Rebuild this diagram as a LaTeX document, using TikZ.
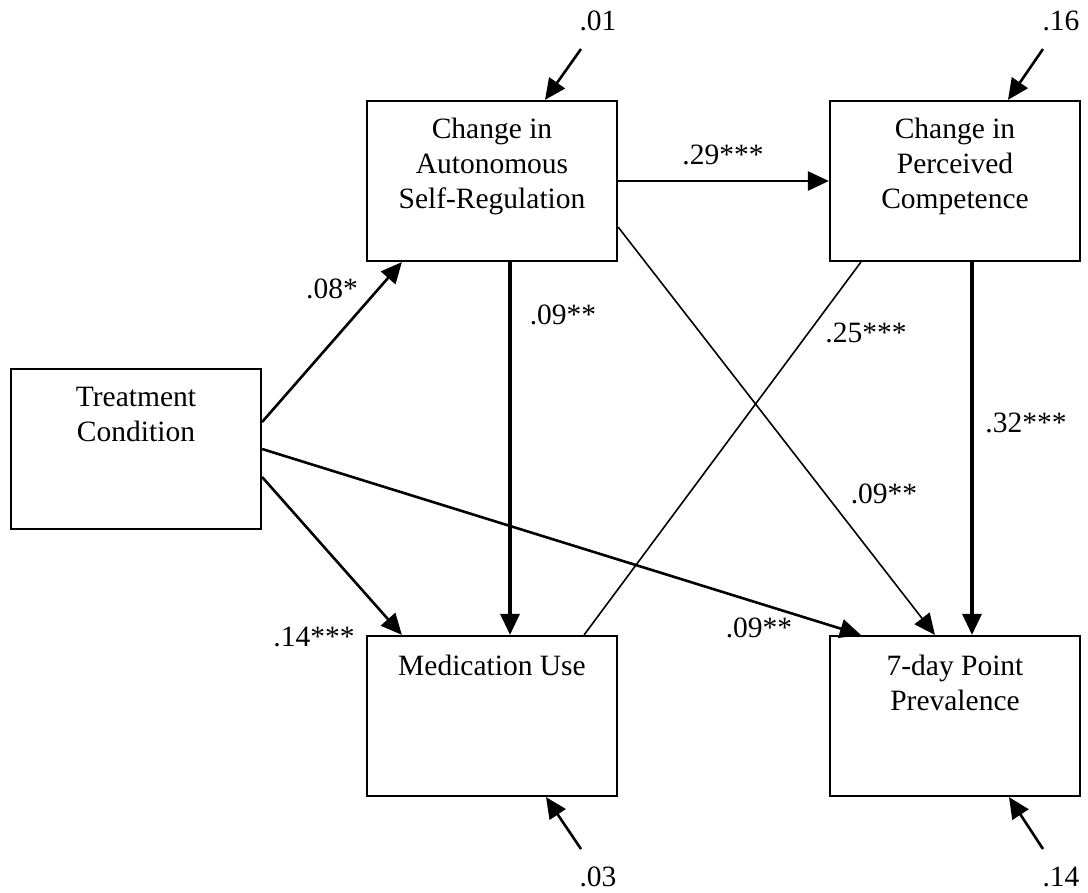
\documentclass[tikz,border=0pt]{standalone}
\usepackage{fontspec}
\setmainfont{Liberation Serif}
\usetikzlibrary{arrows.meta}
\begin{document}
\begin{tikzpicture}[x=1pt,y=-1pt,
  box/.style={draw, line width=2.2pt, minimum width=250pt, minimum height=160pt, inner sep=0pt},
  boxtext/.style={anchor=north, align=center, inner sep=0pt, font=\fontsize{29.5}{35}\selectfont},
  coef/.style={anchor=base, inner sep=0pt, font=\fontsize{29.5}{35}\selectfont},
  arr/.style={-{Triangle[length=21pt,width=19pt]}, line width=2.6pt},
  thickarr/.style={-{Triangle[length=21pt,width=19pt]}, line width=3.2pt},
  thinarr/.style={-{Triangle[length=21pt,width=19pt]}, line width=1.6pt},
  thinline/.style={line width=1.6pt}
]
\useasboundingbox (0,0) rectangle (1088,893);
% boxes
\node[box] (tc)  at (136,449) {};
\node[box] (asr) at (492,181) {};
\node[box] (pc)  at (955,181) {};
\node[box] (med) at (492,716) {};
\node[box] (sev) at (955,716) {};
% box texts
\node[boxtext] (tct)  at ([yshift=-19pt]tc.north)  {Treatment\\Condition};
\node[boxtext] (asrt) at ([yshift=-18pt]asr.north) {Change in\\Autonomous\\Self-Regulation};
\node[boxtext] (pct)  at ([yshift=-18pt]pc.north)  {Change in\\Perceived\\Competence};
\node[boxtext] (medt) at ([yshift=-20pt]med.north) {Medication Use};
\node[boxtext] (sevt) at ([yshift=-20pt]sev.north) {7-day Point\\Prevalence};
% error terms
\coordinate (e1) at (581,49);
\coordinate (e2) at (1043,49);
\coordinate (e3) at (581,849);
\coordinate (e4) at (1043,849);
\node[coef] (e1t) at (598,31) {.01};
\node[coef] (e2t) at (1061,31) {.16};
\node[coef] (e3t) at (598,886) {.03};
\node[coef] (e4t) at (1061,886) {.14};
\draw[arr] (e1) -- ([xshift=53pt]asr.north);
\draw[arr] (e2) -- ([xshift=53pt]pc.north);
\draw[arr] (e3) -- ([xshift=54pt]med.south);
\draw[arr] (e4) -- ([xshift=54pt]sev.south);
% paths
\draw[arr] ([yshift=27pt]tc.east) -- ([xshift=36pt]asr.south west);
\draw[arr] ([yshift=-28pt]tc.east) -- ([xshift=36pt]med.north west);
\draw[arr] (tc.east) -- ([xshift=32pt]sev.north west);
\draw[arr] (asr.east) -- (pc.west);
\draw[thickarr] ([xshift=18pt]asr.south) -- ([xshift=18pt]med.north);
\draw[thickarr] ([xshift=17pt]pc.south) -- ([xshift=17pt]sev.north);
\draw[thinarr] ([yshift=-46pt]asr.east) -- ([xshift=106pt]sev.north west);
\draw[thinline] ([xshift=-34pt]med.north east) -- ([xshift=32pt]pc.south west);
% coefficients
\node[coef] (c1) at (332,299) {.08*};
\node[coef] (c2) at (314,646) {.14***};
\node[coef] (c3) at (759,637) {.09**};
\node[coef] (c4) at (723,165) {.29***};
\node[coef] (c5) at (563,325) {.09**};
\node[coef] (c6) at (866,343) {.25***};
\node[coef] (c7) at (1026,432) {.32***};
\node[coef] (c8) at (884,503) {.09**};
\end{tikzpicture}
\end{document}
